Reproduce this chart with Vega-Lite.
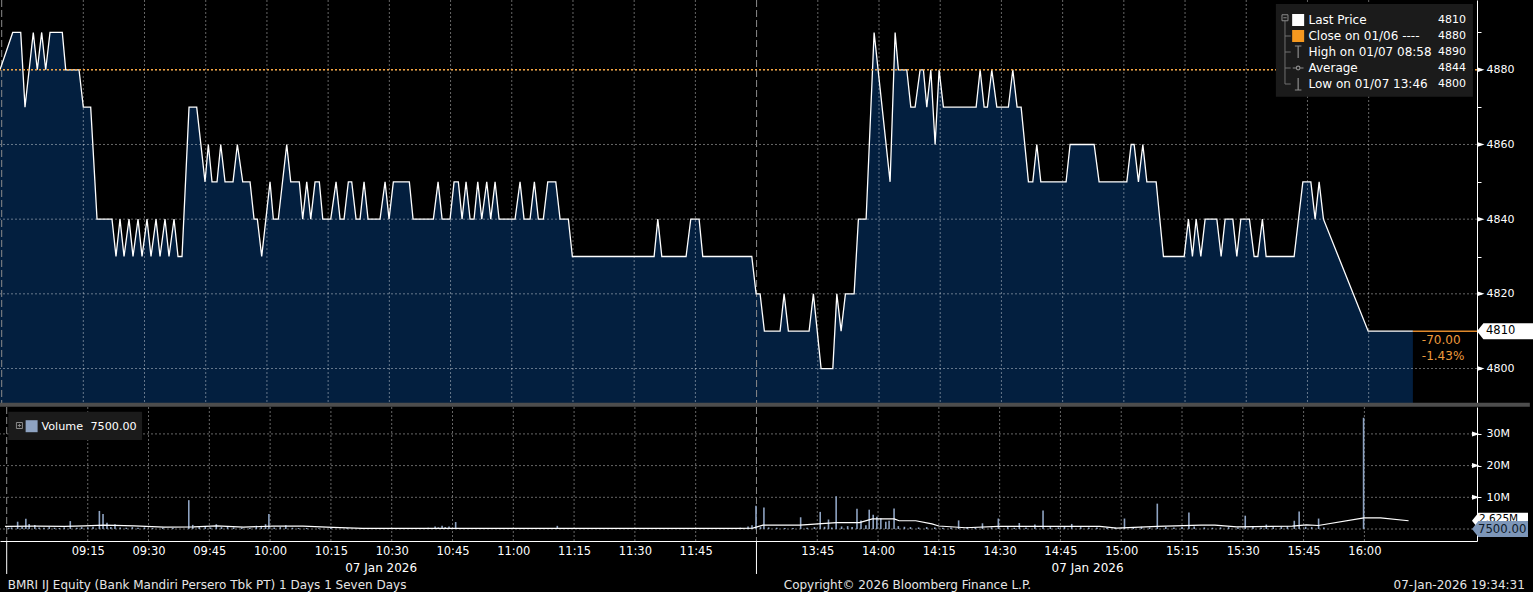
{
  "$schema": "https://vega.github.io/schema/vega-lite/v6.json",
  "background": "#000000",
  "padding": 0,
  "bounds": "flush",
  "spacing": 3,
  "config": {
    "view": {"stroke": null},
    "axis": {"labelFont": "DejaVu Sans", "labelColor": "#ffffff", "domainColor": "#ffffff", "tickColor": "#ffffff"},
    "text": {"font": "DejaVu Sans"}
  },
  "datasets": {
    "price": [
      {"tm": -5.42, "price": 4880}, {"tm": -2.30, "price": 4890}, {"tm": -0.34, "price": 4890}, {"tm": 0.71, "price": 4870},
      {"tm": 2.74, "price": 4890}, {"tm": 3.72, "price": 4880}, {"tm": 4.80, "price": 4890}, {"tm": 5.78, "price": 4880},
      {"tm": 6.84, "price": 4890}, {"tm": 9.85, "price": 4890}, {"tm": 10.69, "price": 4880}, {"tm": 13.95, "price": 4880},
      {"tm": 15.00, "price": 4870}, {"tm": 16.81, "price": 4870}, {"tm": 18.36, "price": 4840}, {"tm": 22.03, "price": 4840},
      {"tm": 23.01, "price": 4830}, {"tm": 23.99, "price": 4840}, {"tm": 24.98, "price": 4830}, {"tm": 26.20, "price": 4840},
      {"tm": 27.18, "price": 4830}, {"tm": 28.41, "price": 4840}, {"tm": 29.39, "price": 4830}, {"tm": 30.61, "price": 4840},
      {"tm": 31.59, "price": 4830}, {"tm": 32.82, "price": 4840}, {"tm": 33.80, "price": 4830}, {"tm": 35.02, "price": 4840},
      {"tm": 36.00, "price": 4830}, {"tm": 37.23, "price": 4840}, {"tm": 38.21, "price": 4830}, {"tm": 39.19, "price": 4830},
      {"tm": 40.91, "price": 4870}, {"tm": 42.79, "price": 4870}, {"tm": 44.83, "price": 4850}, {"tm": 45.64, "price": 4860},
      {"tm": 46.54, "price": 4850}, {"tm": 47.77, "price": 4850}, {"tm": 48.68, "price": 4860}, {"tm": 49.73, "price": 4850},
      {"tm": 51.69, "price": 4850}, {"tm": 52.75, "price": 4860}, {"tm": 54.07, "price": 4850}, {"tm": 55.86, "price": 4850},
      {"tm": 56.84, "price": 4840}, {"tm": 57.65, "price": 4840}, {"tm": 58.72, "price": 4830}, {"tm": 60.76, "price": 4850},
      {"tm": 61.57, "price": 4840}, {"tm": 62.79, "price": 4840}, {"tm": 64.85, "price": 4860}, {"tm": 65.83, "price": 4850},
      {"tm": 67.94, "price": 4850}, {"tm": 68.77, "price": 4840}, {"tm": 69.76, "price": 4850}, {"tm": 70.74, "price": 4840},
      {"tm": 71.79, "price": 4850}, {"tm": 72.84, "price": 4850}, {"tm": 73.68, "price": 4840}, {"tm": 75.64, "price": 4840},
      {"tm": 76.94, "price": 4850}, {"tm": 77.92, "price": 4840}, {"tm": 78.90, "price": 4840}, {"tm": 79.95, "price": 4850},
      {"tm": 80.78, "price": 4850}, {"tm": 81.84, "price": 4840}, {"tm": 82.82, "price": 4840}, {"tm": 83.80, "price": 4850},
      {"tm": 84.78, "price": 4840}, {"tm": 87.72, "price": 4840}, {"tm": 88.95, "price": 4850}, {"tm": 89.93, "price": 4840},
      {"tm": 90.98, "price": 4850}, {"tm": 94.90, "price": 4850}, {"tm": 95.81, "price": 4840}, {"tm": 100.79, "price": 4840},
      {"tm": 101.94, "price": 4850}, {"tm": 102.92, "price": 4840}, {"tm": 104.88, "price": 4840}, {"tm": 105.86, "price": 4850},
      {"tm": 106.91, "price": 4850}, {"tm": 107.82, "price": 4840}, {"tm": 108.80, "price": 4850}, {"tm": 109.78, "price": 4840},
      {"tm": 110.76, "price": 4840}, {"tm": 111.67, "price": 4850}, {"tm": 112.65, "price": 4840}, {"tm": 113.87, "price": 4850},
      {"tm": 114.85, "price": 4840}, {"tm": 115.91, "price": 4850}, {"tm": 116.89, "price": 4840}, {"tm": 120.81, "price": 4840},
      {"tm": 122.03, "price": 4850}, {"tm": 123.01, "price": 4840}, {"tm": 124.49, "price": 4840}, {"tm": 125.54, "price": 4850},
      {"tm": 126.52, "price": 4840}, {"tm": 127.74, "price": 4840}, {"tm": 128.82, "price": 4850}, {"tm": 130.79, "price": 4850},
      {"tm": 131.84, "price": 4840}, {"tm": 133.87, "price": 4840}, {"tm": 134.85, "price": 4830}, {"tm": 154.88, "price": 4830},
      {"tm": 155.79, "price": 4840}, {"tm": 156.77, "price": 4830}, {"tm": 162.72, "price": 4830}, {"tm": 163.87, "price": 4840},
      {"tm": 165.91, "price": 4840}, {"tm": 166.81, "price": 4830}, {"tm": 178.82, "price": 4830}, {"tm": 179.88, "price": 4820},
      {"tm": 180.86, "price": 4820}, {"tm": 181.91, "price": 4810}, {"tm": 185.76, "price": 4810}, {"tm": 186.74, "price": 4820},
      {"tm": 187.79, "price": 4810}, {"tm": 192.87, "price": 4810}, {"tm": 193.92, "price": 4820}, {"tm": 195.81, "price": 4800},
      {"tm": 198.68, "price": 4800}, {"tm": 199.66, "price": 4820}, {"tm": 200.71, "price": 4810}, {"tm": 201.77, "price": 4820},
      {"tm": 203.90, "price": 4820}, {"tm": 204.95, "price": 4840}, {"tm": 206.84, "price": 4840}, {"tm": 208.80, "price": 4890},
      {"tm": 212.72, "price": 4850}, {"tm": 213.95, "price": 4890}, {"tm": 214.75, "price": 4880}, {"tm": 216.81, "price": 4880},
      {"tm": 217.79, "price": 4870}, {"tm": 218.85, "price": 4870}, {"tm": 220.07, "price": 4880}, {"tm": 220.88, "price": 4880},
      {"tm": 221.71, "price": 4870}, {"tm": 222.70, "price": 4880}, {"tm": 223.75, "price": 4860}, {"tm": 224.73, "price": 4880},
      {"tm": 225.78, "price": 4870}, {"tm": 233.80, "price": 4870}, {"tm": 234.78, "price": 4880}, {"tm": 235.76, "price": 4870},
      {"tm": 236.57, "price": 4870}, {"tm": 237.64, "price": 4880}, {"tm": 238.87, "price": 4870}, {"tm": 241.71, "price": 4870},
      {"tm": 242.79, "price": 4880}, {"tm": 243.84, "price": 4870}, {"tm": 244.83, "price": 4870}, {"tm": 246.62, "price": 4850},
      {"tm": 247.69, "price": 4850}, {"tm": 248.67, "price": 4860}, {"tm": 249.65, "price": 4850}, {"tm": 255.85, "price": 4850},
      {"tm": 256.83, "price": 4860}, {"tm": 262.72, "price": 4860}, {"tm": 263.94, "price": 4850}, {"tm": 270.73, "price": 4850},
      {"tm": 271.79, "price": 4860}, {"tm": 272.52, "price": 4860}, {"tm": 273.58, "price": 4850}, {"tm": 274.66, "price": 4860},
      {"tm": 275.64, "price": 4850}, {"tm": 277.92, "price": 4850}, {"tm": 279.71, "price": 4830}, {"tm": 284.78, "price": 4830},
      {"tm": 285.83, "price": 4840}, {"tm": 286.81, "price": 4830}, {"tm": 287.72, "price": 4840}, {"tm": 288.87, "price": 4830},
      {"tm": 289.92, "price": 4840}, {"tm": 292.79, "price": 4840}, {"tm": 293.84, "price": 4830}, {"tm": 294.82, "price": 4840},
      {"tm": 296.71, "price": 4840}, {"tm": 297.69, "price": 4830}, {"tm": 298.67, "price": 4840}, {"tm": 300.78, "price": 4840},
      {"tm": 301.93, "price": 4830}, {"tm": 302.84, "price": 4830}, {"tm": 303.96, "price": 4840}, {"tm": 304.87, "price": 4830},
      {"tm": 311.73, "price": 4830}, {"tm": 313.87, "price": 4850}, {"tm": 315.83, "price": 4850}, {"tm": 316.88, "price": 4840},
      {"tm": 317.86, "price": 4850}, {"tm": 318.92, "price": 4840}, {"tm": 329.88, "price": 4810}, {"tm": 340.84, "price": 4810}
    ],
    "volume": [
      {"tm": -4.5, "vol": 400000}, {"tm": -3.8, "vol": 500000}, {"tm": -2.30, "vol": 2300000}, {"tm": -1.2, "vol": 600000},
      {"tm": -0.27, "vol": 3200000}, {"tm": 0.54, "vol": 1600000}, {"tm": 1.94, "vol": 1300000}, {"tm": 3.0, "vol": 500000},
      {"tm": 4.2, "vol": 400000}, {"tm": 5.5, "vol": 600000}, {"tm": 6.8, "vol": 400000}, {"tm": 8.0, "vol": 300000},
      {"tm": 9.2, "vol": 500000}, {"tm": 10.69, "vol": 2500000}, {"tm": 12.3, "vol": 400000}, {"tm": 13.5, "vol": 600000},
      {"tm": 15.0, "vol": 500000}, {"tm": 16.3, "vol": 700000}, {"tm": 17.87, "vol": 5700000}, {"tm": 18.77, "vol": 4700000},
      {"tm": 19.75, "vol": 2000000}, {"tm": 20.7, "vol": 600000}, {"tm": 21.72, "vol": 1500000}, {"tm": 23.0, "vol": 500000},
      {"tm": 24.5, "vol": 400000}, {"tm": 26.0, "vol": 600000}, {"tm": 27.4, "vol": 400000}, {"tm": 29.0, "vol": 500000},
      {"tm": 31.0, "vol": 300000}, {"tm": 33.5, "vol": 400000}, {"tm": 36.0, "vol": 300000}, {"tm": 39.93, "vol": 9100000},
      {"tm": 40.91, "vol": 1300000}, {"tm": 42.5, "vol": 600000}, {"tm": 44.0, "vol": 700000}, {"tm": 45.3, "vol": 500000},
      {"tm": 46.72, "vol": 1500000}, {"tm": 48.0, "vol": 600000}, {"tm": 49.5, "vol": 800000}, {"tm": 51.0, "vol": 500000},
      {"tm": 53.0, "vol": 400000}, {"tm": 55.0, "vol": 300000}, {"tm": 56.59, "vol": 1000000}, {"tm": 57.82, "vol": 1000000},
      {"tm": 58.87, "vol": 1500000}, {"tm": 59.70, "vol": 4700000}, {"tm": 61.0, "vol": 500000}, {"tm": 62.5, "vol": 600000},
      {"tm": 63.87, "vol": 1200000}, {"tm": 65.5, "vol": 400000}, {"tm": 67.0, "vol": 300000}, {"tm": 69.0, "vol": 300000},
      {"tm": 72.0, "vol": 200000}, {"tm": 75.0, "vol": 300000}, {"tm": 79.0, "vol": 200000}, {"tm": 84.0, "vol": 200000},
      {"tm": 92.0, "vol": 200000}, {"tm": 99.0, "vol": 400000}, {"tm": 100.71, "vol": 800000}, {"tm": 101.5, "vol": 500000},
      {"tm": 102.43, "vol": 1000000}, {"tm": 103.2, "vol": 600000}, {"tm": 104.14, "vol": 800000}, {"tm": 105.78, "vol": 2200000},
      {"tm": 107.5, "vol": 300000}, {"tm": 110.0, "vol": 200000}, {"tm": 118.0, "vol": 200000}, {"tm": 127.0, "vol": 200000},
      {"tm": 130.86, "vol": 1000000}, {"tm": 140.0, "vol": 150000}, {"tm": 152.0, "vol": 150000}, {"tm": 163.0, "vol": 200000},
      {"tm": 170.0, "vol": 200000}, {"tm": 174.0, "vol": 300000}, {"tm": 176.0, "vol": 400000}, {"tm": 177.92, "vol": 800000},
      {"tm": 178.9, "vol": 1200000}, {"tm": 179.88, "vol": 7300000}, {"tm": 181.0, "vol": 600000}, {"tm": 181.84, "vol": 6800000},
      {"tm": 183.0, "vol": 500000}, {"tm": 185.0, "vol": 400000}, {"tm": 187.0, "vol": 300000}, {"tm": 189.0, "vol": 300000},
      {"tm": 190.9, "vol": 3700000}, {"tm": 192.5, "vol": 400000}, {"tm": 194.3, "vol": 600000}, {"tm": 195.73, "vol": 5400000},
      {"tm": 196.8, "vol": 700000}, {"tm": 197.77, "vol": 3000000}, {"tm": 198.6, "vol": 500000}, {"tm": 199.66, "vol": 10300000},
      {"tm": 201.0, "vol": 800000}, {"tm": 202.5, "vol": 900000}, {"tm": 203.6, "vol": 600000}, {"tm": 204.80, "vol": 6400000},
      {"tm": 205.79, "vol": 2700000}, {"tm": 207.0, "vol": 1200000}, {"tm": 207.82, "vol": 6100000}, {"tm": 208.80, "vol": 4500000},
      {"tm": 209.71, "vol": 3900000}, {"tm": 210.69, "vol": 3400000}, {"tm": 211.91, "vol": 2300000}, {"tm": 212.72, "vol": 2600000},
      {"tm": 213.95, "vol": 6500000}, {"tm": 215.0, "vol": 900000}, {"tm": 216.5, "vol": 700000}, {"tm": 218.0, "vol": 600000},
      {"tm": 220.0, "vol": 500000}, {"tm": 222.0, "vol": 600000}, {"tm": 224.0, "vol": 500000}, {"tm": 226.0, "vol": 400000},
      {"tm": 228.0, "vol": 500000}, {"tm": 229.88, "vol": 2700000}, {"tm": 232.0, "vol": 600000}, {"tm": 234.0, "vol": 400000},
      {"tm": 235.76, "vol": 1800000}, {"tm": 238.0, "vol": 500000}, {"tm": 239.68, "vol": 3300000}, {"tm": 242.0, "vol": 600000},
      {"tm": 243.6, "vol": 400000}, {"tm": 244.85, "vol": 1900000}, {"tm": 246.5, "vol": 500000}, {"tm": 248.70, "vol": 1400000},
      {"tm": 250.71, "vol": 5800000}, {"tm": 252.5, "vol": 600000}, {"tm": 254.5, "vol": 500000}, {"tm": 256.0, "vol": 700000},
      {"tm": 257.79, "vol": 1600000}, {"tm": 260.0, "vol": 600000}, {"tm": 262.0, "vol": 500000}, {"tm": 264.0, "vol": 500000},
      {"tm": 266.5, "vol": 400000}, {"tm": 268.5, "vol": 400000}, {"tm": 270.8, "vol": 3300000}, {"tm": 273.0, "vol": 600000},
      {"tm": 275.0, "vol": 700000}, {"tm": 277.0, "vol": 500000}, {"tm": 278.9, "vol": 8000000}, {"tm": 281.0, "vol": 600000},
      {"tm": 283.0, "vol": 500000}, {"tm": 285.0, "vol": 600000}, {"tm": 286.7, "vol": 5200000}, {"tm": 288.0, "vol": 800000},
      {"tm": 290.5, "vol": 500000}, {"tm": 292.5, "vol": 400000}, {"tm": 294.5, "vol": 500000}, {"tm": 296.5, "vol": 600000},
      {"tm": 298.8, "vol": 500000}, {"tm": 300.6, "vol": 4200000}, {"tm": 302.5, "vol": 600000}, {"tm": 304.5, "vol": 500000},
      {"tm": 305.8, "vol": 1400000}, {"tm": 307.5, "vol": 600000}, {"tm": 309.5, "vol": 700000}, {"tm": 311.0, "vol": 900000},
      {"tm": 312.7, "vol": 2600000}, {"tm": 313.9, "vol": 5500000}, {"tm": 315.5, "vol": 700000}, {"tm": 317.0, "vol": 600000},
      {"tm": 318.7, "vol": 3300000}, {"tm": 320.0, "vol": 500000}, {"tm": 329.8, "vol": 35100000}, {"tm": 340.8, "vol": 7500}
    ],
    "volAvg": [
      {"tm": -5.4, "vol": 800000}, {"tm": 1.95, "vol": 900000}, {"tm": 9.3, "vol": 800000}, {"tm": 14.2, "vol": 1000000},
      {"tm": 19.1, "vol": 1200000}, {"tm": 26.45, "vol": 1000000}, {"tm": 33.8, "vol": 600000}, {"tm": 41.15, "vol": 700000},
      {"tm": 46.8, "vol": 1000000}, {"tm": 53.4, "vol": 600000}, {"tm": 60.75, "vol": 900000}, {"tm": 68.1, "vol": 900000},
      {"tm": 75.45, "vol": 500000}, {"tm": 82.8, "vol": 200000}, {"tm": 117.1, "vol": 200000}, {"tm": 175.9, "vol": 200000},
      {"tm": 179.1, "vol": 300000}, {"tm": 181.6, "vol": 1200000}, {"tm": 190.7, "vol": 1200000}, {"tm": 199.7, "vol": 2000000},
      {"tm": 205.4, "vol": 2000000}, {"tm": 208.6, "vol": 3200000}, {"tm": 214.0, "vol": 3200000}, {"tm": 215.2, "vol": 2600000},
      {"tm": 219.3, "vol": 2600000}, {"tm": 223.3, "vol": 1600000}, {"tm": 225.0, "vol": 950000}, {"tm": 231.6, "vol": 400000},
      {"tm": 239.7, "vol": 840000}, {"tm": 264.7, "vol": 840000}, {"tm": 268.9, "vol": 300000}, {"tm": 278.9, "vol": 840000},
      {"tm": 289.7, "vol": 1200000}, {"tm": 293.1, "vol": 1200000}, {"tm": 298.5, "vol": 700000}, {"tm": 312.2, "vol": 900000},
      {"tm": 315.7, "vol": 1300000}, {"tm": 318.6, "vol": 1100000}, {"tm": 329.9, "vol": 3500000}, {"tm": 334.0, "vol": 3500000},
      {"tm": 340.9, "vol": 2600000}
    ],
    "timeTicks": [
      {"tm": 15}, {"tm": 30}, {"tm": 45}, {"tm": 60}, {"tm": 75}, {"tm": 90}, {"tm": 105}, {"tm": 120}, {"tm": 135}, {"tm": 150}, {"tm": 165},
      {"tm": 195}, {"tm": 210}, {"tm": 225}, {"tm": 240}, {"tm": 255}, {"tm": 270}, {"tm": 285}, {"tm": 300}, {"tm": 315}, {"tm": 330}
    ],
    "sessions": [
      {"session": "Morning", "open": -5, "mid": 87.4, "date": "07 Jan 2026"},
      {"session": "Afternoon", "open": 180, "mid": 261.7, "date": "07 Jan 2026"}
    ],
    "priceLevels": [{"level": 4800}, {"level": 4820}, {"level": 4840}, {"level": 4860}, {"level": 4880}],
    "volLevels": [{"level": 0}, {"level": 10000000}, {"level": 20000000}, {"level": 30000000}],
    "legend": [
      {"rank": 1, "name": "Last Price", "value": 4810},
      {"rank": 2, "name": "Close on 01/06 ----", "value": 4880},
      {"rank": 3, "name": "High on 01/07 08:58", "value": 4890},
      {"rank": 4, "name": "Average", "value": 4844},
      {"rank": 5, "name": "Low on 01/07 13:46", "value": 4800}
    ],
    "volTags": [
      {"series": "Volume average", "value": 2625000, "label": "2.625M"},
      {"series": "Volume", "value": 7500, "label": "7500.00"}
    ]
  },
  "vconcat": [
    {
      "width": 1477,
      "height": 404,
      "layer": [
        {
          "layer": [
            {
              "data": {"name": "price"},
              "mark": {"type": "area", "color": "#031f3f", "clip": true},
              "encoding": {
                "x": {"field": "tm", "type": "quantitative", "scale": {"domain": [-5.417, 356.55], "nice": false, "zero": false}, "axis": null},
                "y": {
                  "field": "price", "type": "quantitative",
                  "scale": {"domain": [4790.5, 4898.69], "nice": false, "zero": false},
                  "axis": {
                    "orient": "right", "values": [4800, 4810, 4820, 4830, 4840, 4850, 4860, 4870, 4880, 4890],
                    "format": "d", "labelExpr": "datum.value % 20 == 0 ? datum.label : ''",
                    "domainColor": "#ffffff", "tickColor": "#ffffff", "tickSize": 4,
                    "labelColor": "#ffffff", "labelFontSize": 11, "labelPadding": 5, "grid": false, "title": null
                  }
                }
              }
            },
            {
              "data": {"name": "timeTicks"},
              "mark": {"type": "rule", "color": "#ffffff", "opacity": 0.4, "strokeDash": [2, 2], "strokeWidth": 1, "clip": true},
              "encoding": {"x": {"field": "tm", "type": "quantitative", "axis": null}}
            },
            {
              "data": {"name": "priceLevels"},
              "mark": {"type": "rule", "color": "#ffffff", "opacity": 0.4, "strokeDash": [2, 2], "strokeWidth": 1, "clip": true},
              "encoding": {"y": {"field": "level", "type": "quantitative"}}
            },
            {
              "data": {"name": "sessions"},
              "mark": {"type": "rule", "color": "#8a8a8a", "strokeDash": [7, 3], "strokeWidth": 1, "clip": true},
              "encoding": {"x": {"field": "open", "type": "quantitative", "axis": null}}
            },
            {
              "data": {"name": "price"},
              "mark": {"type": "line", "color": "#ffffff", "strokeWidth": 1.3, "clip": true},
              "encoding": {
                "x": {"field": "tm", "type": "quantitative", "axis": null},
                "y": {"field": "price", "type": "quantitative"}
              }
            },
            {
              "data": {"name": "legend"},
              "transform": [{"filter": "datum.rank == 2"}],
              "mark": {"type": "rule", "color": "#f4a340", "strokeDash": [2, 2], "strokeWidth": 1.5, "clip": true},
              "encoding": {"y": {"field": "value", "type": "quantitative"}}
            },
            {
              "data": {"name": "legend"},
              "transform": [{"filter": "datum.rank == 1"}],
              "mark": {"type": "rule", "color": "#e0892c", "strokeWidth": 1.5},
              "encoding": {
                "x": {"datum": 340.84, "type": "quantitative", "axis": null},
                "x2": {"datum": 356.55},
                "y": {"field": "value", "type": "quantitative"}
              }
            },
            {
              "data": {"values": [{"change": ["-70.00", "-1.43%"]}]},
              "mark": {"type": "text", "color": "#ee9a3c", "fontSize": 12, "align": "left", "baseline": "top", "dy": 4, "lineHeight": 16},
              "encoding": {
                "x": {"datum": 343.03, "type": "quantitative", "axis": null},
                "y": {"datum": 4810, "type": "quantitative"},
                "text": {"field": "change"}
              }
            },
            {
              "data": {"name": "priceLevels"},
              "mark": {"type": "point", "shape": "M0,-0.5 L1.5,0 L0,0.5 Z", "size": 100, "filled": true, "color": "#ffffff", "opacity": 1, "clip": false},
              "encoding": {
                "x": {"datum": 356.55, "type": "quantitative", "axis": null},
                "y": {"field": "level", "type": "quantitative"}
              }
            },
            {
              "data": {"name": "legend"},
              "transform": [{"filter": "datum.rank == 1"}],
              "mark": {"type": "point", "shape": "M0,0 L0.8,-1 L7,-1 L7,1 L0.8,1 Z", "size": 256, "filled": true, "color": "#ffffff", "opacity": 1, "clip": false},
              "encoding": {
                "x": {"datum": 356.55, "type": "quantitative", "axis": null},
                "y": {"field": "value", "type": "quantitative"}
              }
            },
            {
              "data": {"name": "legend"},
              "transform": [{"filter": "datum.rank == 1"}],
              "mark": {"type": "text", "color": "#000000", "fontSize": 11.5, "align": "left", "baseline": "middle", "dx": 9, "clip": false},
              "encoding": {
                "x": {"datum": 356.55, "type": "quantitative", "axis": null},
                "y": {"field": "value", "type": "quantitative"},
                "text": {"field": "value", "type": "quantitative", "format": "d"}
              }
            },
            {
              "data": {"values": [{"bar": "separator"}]},
              "mark": {"type": "rect", "color": "#4d4d4d", "clip": false},
              "encoding": {
                "x": {"datum": -5.417, "type": "quantitative", "axis": null},
                "x2": {"datum": 369.5},
                "y": {"datum": 4790.85, "type": "quantitative"},
                "y2": {"datum": 4789.78}
              }
            }
          ]
        },
        {
          "data": {"name": "legend"},
          "layer": [
            {
              "data": {"values": [{"box": "legend"}]},
              "mark": {"type": "rect", "color": "#1b1b1b"},
              "encoding": {
                "x": {"datum": 307.26, "type": "quantitative", "axis": null},
                "x2": {"datum": 355.55},
                "y": {"datum": 0, "type": "quantitative", "scale": {"domain": [-0.25, 25], "reverse": true, "nice": false, "zero": false}, "axis": null},
                "y2": {"datum": 5.8}
              }
            },
            {
              "data": {"values": [{"box": "tree"}]},
              "mark": {"type": "rule", "color": "#707070", "strokeWidth": 1},
              "encoding": {
                "x": {"datum": 309.49, "type": "quantitative", "axis": null},
                "y": {"datum": 1.06, "type": "quantitative", "axis": null},
                "y2": {"datum": 5}
              }
            },
            {
              "transform": [{"filter": "datum.rank >= 2"}],
              "mark": {"type": "rule", "color": "#707070", "strokeWidth": 1},
              "encoding": {
                "x": {"datum": 309.49, "type": "quantitative", "axis": null},
                "x2": {"datum": 310.9},
                "y": {"field": "rank", "type": "quantitative", "axis": null}
              }
            },
            {
              "data": {"values": [{"box": "collapse"}]},
              "mark": {"type": "point", "shape": "M-1,-1 L1,-1 L1,1 L-1,1 Z M-0.55,0 L0.55,0", "size": 36, "filled": false, "color": "#8a8a8a", "strokeWidth": 1, "opacity": 1},
              "encoding": {
                "x": {"datum": 309.49, "type": "quantitative", "axis": null},
                "y": {"datum": 0.86, "type": "quantitative", "axis": null}
              }
            },
            {
              "transform": [{"filter": "datum.rank <= 2"}],
              "mark": {"type": "point", "shape": "square", "size": 144, "filled": true, "opacity": 1},
              "encoding": {
                "x": {"datum": 312.72, "type": "quantitative", "axis": null},
                "y": {"field": "rank", "type": "quantitative", "axis": null},
                "color": {"field": "name", "type": "nominal", "scale": {"domain": ["Last Price", "Close on 01/06 ----"], "range": ["#ffffff", "#f5981f"]}, "legend": null}
              }
            },
            {
              "transform": [{"filter": "datum.rank >= 3"}],
              "mark": {"type": "point", "size": 144, "filled": false, "color": "#8c8c8c", "strokeWidth": 1.2, "opacity": 1},
              "encoding": {
                "x": {"datum": 312.72, "type": "quantitative", "axis": null},
                "y": {"field": "rank", "type": "quantitative", "axis": null},
                "shape": {
                  "field": "name", "type": "nominal",
                  "scale": {
                    "domain": ["High on 01/07 08:58", "Average", "Low on 01/07 13:46"],
                    "range": [
                      "M-0.55,-1 L0.55,-1 M0,-1 L0,1",
                      "M-0.9,0 L-0.3,0 M0.3,0 L0.9,0 M-0.3,0 A0.3,0.3 0 1,1 0.3,0 A0.3,0.3 0 1,1 -0.3,0",
                      "M0,-1 L0,1 M-0.55,1 L0.55,1"
                    ]
                  },
                  "legend": null
                }
              }
            },
            {
              "mark": {"type": "text", "color": "#ffffff", "fontSize": 12, "align": "left", "baseline": "middle"},
              "encoding": {
                "x": {"datum": 315.25, "type": "quantitative", "axis": null},
                "y": {"field": "rank", "type": "quantitative", "axis": null},
                "text": {"field": "name"}
              }
            },
            {
              "mark": {"type": "text", "color": "#ffffff", "fontSize": 11, "align": "right", "baseline": "middle"},
              "encoding": {
                "x": {"datum": 353.83, "type": "quantitative", "axis": null},
                "y": {"field": "rank", "type": "quantitative", "axis": null},
                "text": {"field": "value", "type": "quantitative", "format": "d"}
              }
            }
          ]
        }
      ],
      "resolve": {"scale": {"y": "independent"}, "axis": {"y": "independent"}}
    },
    {
      "width": 1477,
      "height": 134,
      "layer": [
        {
          "data": {"name": "timeTicks"},
          "mark": {"type": "rule", "color": "#ffffff", "opacity": 0.4, "strokeDash": [2, 2], "strokeWidth": 1, "clip": true},
          "encoding": {
            "x": {
              "field": "tm", "type": "quantitative",
              "scale": {"domain": [-5.417, 356.55], "nice": false, "zero": false},
              "axis": {
                "values": [15, 30, 45, 60, 75, 90, 105, 120, 135, 150, 165, 195, 210, 225, 240, 255, 270, 285, 300, 315, 330],
                "labelExpr": "timeFormat(datetime(2026, 0, 7, 0, datum.value < 180 ? 540 + datum.value : 630 + datum.value), '%H:%M')",
                "domainColor": "#ffffff", "domainWidth": 1, "ticks": false, "tickSize": 0,
                "labelColor": "#ffffff", "labelFontSize": 11.5, "labelPadding": 4,
                "labelOverlap": false, "labelFlush": false, "grid": false, "title": null
              }
            }
          }
        },
        {
          "data": {"name": "volLevels"},
          "mark": {"type": "rule", "color": "#ffffff", "opacity": 0.4, "strokeDash": [2, 2], "strokeWidth": 1, "clip": true},
          "encoding": {
            "y": {
              "field": "level", "type": "quantitative",
              "scale": {"domain": [-3785000, 38490000], "nice": false, "zero": false},
              "axis": {
                "orient": "right",
                "values": [0, 5000000, 10000000, 15000000, 20000000, 25000000, 30000000, 35000000],
                "labelExpr": "datum.value > 0 && datum.value % 10000000 == 0 ? format(datum.value, '~s') : ''",
                "domainColor": "#ffffff", "tickColor": "#ffffff", "tickSize": 4,
                "labelColor": "#ffffff", "labelFontSize": 11, "labelPadding": 5, "grid": false, "title": null
              }
            }
          }
        },
        {
          "data": {"name": "sessions"},
          "mark": {"type": "rule", "color": "#8a8a8a", "strokeDash": [7, 3], "strokeWidth": 1, "clip": true},
          "encoding": {"x": {"field": "open", "type": "quantitative"}}
        },
        {
          "data": {"name": "volume"},
          "mark": {"type": "bar", "color": "#8ea3c2", "size": 1.6, "clip": true},
          "encoding": {
            "x": {"field": "tm", "type": "quantitative"},
            "y": {"field": "vol", "type": "quantitative"}
          }
        },
        {
          "data": {"name": "volAvg"},
          "mark": {"type": "line", "color": "#ffffff", "strokeWidth": 1.2, "clip": true},
          "encoding": {
            "x": {"field": "tm", "type": "quantitative"},
            "y": {"field": "vol", "type": "quantitative"}
          }
        },
        {
          "data": {"name": "volLevels"},
          "transform": [{"filter": "datum.level > 0"}],
          "mark": {"type": "point", "shape": "M0,-0.5 L1.5,0 L0,0.5 Z", "size": 100, "filled": true, "color": "#ffffff", "opacity": 1, "clip": false},
          "encoding": {
            "x": {"datum": 356.55, "type": "quantitative"},
            "y": {"field": "level", "type": "quantitative"}
          }
        },
        {
          "data": {"name": "volTags"},
          "transform": [{"filter": "datum.series == 'Volume average'"}],
          "layer": [
            {
              "mark": {"type": "point", "shape": "M0,0 L0.8,-1 L7,-1 L7,1 L0.8,1 Z", "size": 256, "filled": true, "color": "#ffffff", "opacity": 1, "clip": false},
              "encoding": {"x": {"datum": 356.55, "type": "quantitative"}, "y": {"field": "value", "type": "quantitative"}}
            },
            {
              "mark": {"type": "text", "color": "#000000", "fontSize": 10.5, "align": "left", "baseline": "middle", "dx": 7, "dy": -2, "clip": false},
              "encoding": {"x": {"datum": 356.55, "type": "quantitative"}, "y": {"field": "value", "type": "quantitative"}, "text": {"field": "label"}}
            }
          ]
        },
        {
          "data": {"name": "volTags"},
          "transform": [{"filter": "datum.series == 'Volume'"}],
          "layer": [
            {
              "mark": {"type": "point", "shape": "M0,0 L0.8,-1 L7,-1 L7,1 L0.8,1 Z", "size": 256, "filled": true, "color": "#7d96b8", "opacity": 1, "clip": false},
              "encoding": {"x": {"datum": 356.55, "type": "quantitative"}, "y": {"field": "value", "type": "quantitative"}}
            },
            {
              "mark": {"type": "text", "color": "#0e1a28", "fontSize": 11.7, "align": "left", "baseline": "middle", "dx": 6, "clip": false},
              "encoding": {"x": {"datum": 356.55, "type": "quantitative"}, "y": {"field": "value", "type": "quantitative"}, "text": {"field": "label"}}
            }
          ]
        },
        {
          "data": {"name": "sessions"},
          "mark": {"type": "rule", "color": "#ffffff", "strokeWidth": 1, "clip": false},
          "encoding": {
            "x": {"field": "open", "type": "quantitative"},
            "y": {"datum": -3785000, "type": "quantitative"},
            "y2": {"datum": -14190000}
          }
        },
        {
          "data": {"name": "sessions"},
          "mark": {"type": "text", "color": "#ffffff", "fontSize": 12, "align": "center", "baseline": "alphabetic", "clip": false},
          "encoding": {
            "x": {"field": "mid", "type": "quantitative"},
            "y": {"datum": -13470000, "type": "quantitative"},
            "text": {"field": "date"}
          }
        },
        {
          "data": {"values": [{"footer": "BMRI IJ Equity (Bank Mandiri Persero Tbk PT) 1 Days 1 Seven Days"}]},
          "mark": {"type": "text", "color": "#e6e6e6", "fontSize": 12, "align": "left", "baseline": "alphabetic", "clip": false},
          "encoding": {
            "x": {"datum": -4.755, "type": "quantitative"},
            "y": {"datum": -18930000, "type": "quantitative"},
            "text": {"field": "footer"}
          }
        },
        {
          "data": {"values": [{"footer": "Copyright© 2026 Bloomberg Finance L.P."}]},
          "mark": {"type": "text", "color": "#e6e6e6", "fontSize": 12, "align": "left", "baseline": "alphabetic", "clip": false},
          "encoding": {
            "x": {"datum": 186.74, "type": "quantitative"},
            "y": {"datum": -18930000, "type": "quantitative"},
            "text": {"field": "footer"}
          }
        },
        {
          "data": {"values": [{"footer": "07-Jan-2026 19:34:31"}]},
          "mark": {"type": "text", "color": "#e6e6e6", "fontSize": 12, "align": "right", "baseline": "alphabetic", "clip": false},
          "encoding": {
            "x": {"datum": 369.6, "type": "quantitative"},
            "y": {"datum": -18930000, "type": "quantitative"},
            "text": {"field": "footer"}
          }
        },
        {
          "data": {"values": [{"box": "volume legend"}]},
          "mark": {"type": "rect", "color": "#1b1b1b"},
          "encoding": {
            "x": {"datum": -4.6, "type": "quantitative"},
            "x2": {"datum": 28.4},
            "y": {"datum": 37010000, "type": "quantitative"},
            "y2": {"datum": 28080000}
          }
        },
        {
          "data": {"values": [{"box": "expand"}]},
          "mark": {"type": "point", "shape": "M-1,-1 L1,-1 L1,1 L-1,1 Z M-0.55,0 L0.55,0 M0,-0.55 L0,0.55", "size": 36, "filled": false, "color": "#8a8a8a", "strokeWidth": 1, "opacity": 1},
          "encoding": {
            "x": {"datum": -1.86, "type": "quantitative"},
            "y": {"datum": 32650000, "type": "quantitative"}
          }
        },
        {
          "data": {"name": "volTags"},
          "transform": [{"filter": "datum.series == 'Volume'"}],
          "layer": [
            {
              "mark": {"type": "point", "shape": "square", "size": 144, "filled": true, "color": "#8ea3c2", "opacity": 1},
              "encoding": {"x": {"datum": 1.15, "type": "quantitative"}, "y": {"datum": 32430000, "type": "quantitative"}}
            },
            {
              "mark": {"type": "text", "color": "#ffffff", "fontSize": 11.2, "align": "left", "baseline": "middle"},
              "encoding": {"x": {"datum": 3.58, "type": "quantitative"}, "y": {"datum": 32270000, "type": "quantitative"}, "text": {"field": "series"}}
            },
            {
              "mark": {"type": "text", "color": "#ffffff", "fontSize": 11.2, "align": "left", "baseline": "middle"},
              "encoding": {"x": {"datum": 15.66, "type": "quantitative"}, "y": {"datum": 32270000, "type": "quantitative"}, "text": {"field": "label"}}
            }
          ]
        }
      ]
    }
  ]
}
